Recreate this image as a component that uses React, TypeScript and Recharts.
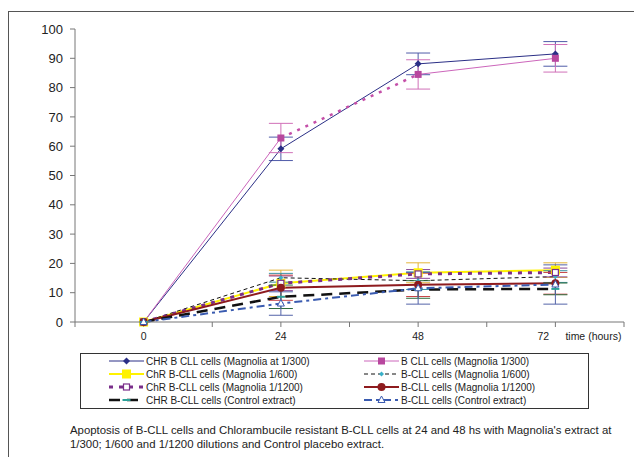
import React from "react";
import { LineChart, Line, XAxis, YAxis, ErrorBar } from "recharts";

const font = "'Liberation Sans', Arial, sans-serif";

const hours = [0, 24, 48, 72];
const xTicks = [-12, 0, 12, 24, 36, 48, 60, 72, 84];
const yTicks = [0, 10, 20, 30, 40, 50, 60, 70, 80, 90, 100];

// % apoptotic cells, with error bar half-widths
const chr300 = [0, 59.1, 88.1, 91.5];
const chr300Err = [0, 4.0, 3.7, 4.2];
const b300 = [0, 62.8, 84.5, 90.0];
const b300Err = [0, 5.0, 5.0, 4.7];
const chr600 = [0, 13.2, 16.8, 17.7];
const chr600Err = [0, 4.5, 3.4, 2.5];
const b600 = [0, 15.1, 14.1, 15.5];
const b600Err = [0, 1.5, 3.0, 2.0];
const chr1200 = [0, 13.2, 16.4, 16.9];
const chr1200Err = [0, 2.5, 1.5, 1.5];
const b1200 = [0, 11.7, 12.7, 13.2];
const b1200Err = [0, 4.3, 4.0, 3.7];
const chrCtrl = [0, 8.6, 11.1, 11.3];
const chrCtrlErr = [0, 4.0, 3.0, 2.0];
const bCtrl = [0, 6.3, 11.5, 12.8];
const bCtrlErr = [0, 4.0, 5.4, 6.7];

const rows = hours.map((h, i) => ({
  hour: h,
  chr300: chr300[i],
  chr300Err: chr300Err[i],
  b300: b300[i],
  b300Err: b300Err[i],
  // the 1/300 B CLL line is dotted between 24 and 48 h
  b300a: i <= 1 ? b300[i] : null,
  b300b: i >= 1 && i <= 2 ? b300[i] : null,
  b300c: i >= 2 ? b300[i] : null,
  chr600: chr600[i],
  chr600Err: chr600Err[i],
  b600: b600[i],
  b600Err: b600Err[i],
  chr1200: chr1200[i],
  chr1200Err: chr1200Err[i],
  b1200: b1200[i],
  b1200Err: b1200Err[i],
  chrCtrl: chrCtrl[i],
  chrCtrlErr: chrCtrlErr[i],
  bCtrl: bCtrl[i],
  bCtrlErr: bCtrlErr[i],
}));

type Shape = "diamond" | "square" | "bigSquare" | "smallDiamond" | "openSquare" | "circle" | "dash" | "openTriangle";

interface SeriesDef {
  key: string;
  name: string;
  color: string;
  width: number;
  dash?: string;
  shape: Shape;
  markerColor: string;
  errColor: string;
}

const series: SeriesDef[] = [
  { key: "chr300", name: "CHR B CLL cells (Magnolia at 1/300)", color: "#2b2f86", width: 1, shape: "diamond", markerColor: "#2b2f86", errColor: "#4f5ba8" },
  { key: "b300", name: "B CLL cells (Magnolia 1/300)", color: "#cc66bb", width: 1, shape: "square", markerColor: "#b8479e", errColor: "#d070b8" },
  { key: "chr600", name: "ChR B-CLL cells (Magnolia 1/600)", color: "#fff200", width: 2, shape: "bigSquare", markerColor: "#fff200", errColor: "#e3b53a" },
  { key: "b600", name: "B-CLL cells (Magnolia 1/600)", color: "#111111", width: 1, dash: "4 3", shape: "smallDiamond", markerColor: "#3ab0c8", errColor: "#3a8fa0" },
  { key: "chr1200", name: "ChR B-CLL cells (Magnolia 1/1200)", color: "#7a2e8a", width: 3, dash: "4 6", shape: "openSquare", markerColor: "#7a2e8a", errColor: "#8a4a9a" },
  { key: "b1200", name: "B-CLL cells (Magnolia 1/1200)", color: "#8e1b1e", width: 2, shape: "circle", markerColor: "#8e1b1e", errColor: "#c8464a" },
  { key: "chrCtrl", name: "CHR B-CLL cells (Control extract)", color: "#111111", width: 2.5, dash: "11 7", shape: "dash", markerColor: "#2aa198", errColor: "#2e6b3b" },
  { key: "bCtrl", name: "B-CLL cells (Control extract)", color: "#3a5bb0", width: 2, dash: "8 4 3 4", shape: "openTriangle", markerColor: "#3a5bb0", errColor: "#5363a8" },
];

function Marker({ shape, x, y, color }: { shape: Shape; x: number; y: number; color: string }) {
  switch (shape) {
    case "diamond":
      return <polygon points={`${x},${y - 3.5} ${x + 3.5},${y} ${x},${y + 3.5} ${x - 3.5},${y}`} fill={color} />;
    case "square":
      return <rect x={x - 3.5} y={y - 3.5} width={7} height={7} fill={color} />;
    case "bigSquare":
      return <rect x={x - 4.5} y={y - 4.5} width={9} height={9} fill={color} />;
    case "smallDiamond":
      return <polygon points={`${x},${y - 2.5} ${x + 2.5},${y} ${x},${y + 2.5} ${x - 2.5},${y}`} fill={color} />;
    case "openSquare":
      return <rect x={x - 3} y={y - 3} width={6} height={6} fill="#fff" stroke={color} strokeWidth={1.2} />;
    case "circle":
      return <circle cx={x} cy={y} r={4} fill={color} />;
    case "dash":
      return <line x1={x - 4} y1={y} x2={x + 4} y2={y} stroke={color} strokeWidth={2} />;
    case "openTriangle":
      return <polygon points={`${x},${y - 4} ${x + 3.5},${y + 2.5} ${x - 3.5},${y + 2.5}`} fill="#fff" stroke={color} strokeWidth={1} />;
  }
  return null;
}

function dotFor(s: SeriesDef) {
  return (p: any) => {
    if (p.cx == null || p.cy == null || p.value == null) return <g key={`${s.key}-${p.index}`} />;
    return (
      <g key={`${s.key}-${p.index}`}>
        <Marker shape={s.shape} x={p.cx} y={p.cy} color={s.markerColor} />
      </g>
    );
  };
}

function HourTick(props: any) {
  const { x, y, payload } = props;
  const v = payload.value;
  if (!hours.includes(v)) return <g />;
  const last = v === hours[hours.length - 1];
  return (
    <g>
      <text x={last ? x - 12 : x} y={y} dy="0.71em" textAnchor="middle" fontSize={10.5} fill="#222" fontFamily={font}>
        {v}
      </text>
      {last && (
        <text x={x + 10} y={y} dy="0.71em" textAnchor="start" fontSize={10.5} fill="#222" fontFamily={font}>
          time (hours)
        </text>
      )}
    </g>
  );
}

function LegendSample({ s }: { s: SeriesDef }) {
  return (
    <svg width={35} height={12} style={{ display: "block", marginRight: 2, flex: "none" }}>
      <line x1={0} y1={6} x2={35} y2={6} stroke={s.color} strokeWidth={s.width} strokeDasharray={s.dash} />
      <Marker shape={s.shape} x={17.5} y={6} color={s.markerColor} />
    </svg>
  );
}

export default function App() {
  const pink = series[1];
  return (
    <div style={{ position: "relative", width: 634, height: 449, overflow: "hidden", fontFamily: font }}>
      <div
        style={{
          position: "absolute",
          left: 0,
          top: 3,
          width: 680,
          height: 480,
          border: "1px solid #555",
          boxSizing: "border-box",
        }}
      />
      <div style={{ position: "absolute", left: 0, top: 0 }}>
        <LineChart width={634} height={340} data={rows} margin={{ top: 21, right: 18, bottom: 0, left: 27 }}>
          <XAxis
            dataKey="hour"
            type="number"
            domain={[-12, 84]}
            ticks={xTicks}
            interval={0}
            height={26}
            tickSize={5}
            tickMargin={6}
            stroke="#777"
            tick={<HourTick />}
          />
          <YAxis
            type="number"
            domain={[0, 100]}
            ticks={yTicks}
            interval={0}
            width={40}
            tickSize={5}
            tickMargin={7}
            stroke="#777"
            tick={{ fontSize: 13, fill: "#222", fontFamily: font }}
          />
          {series.map((s) => {
            if (s.key === "b300") {
              return [
                <Line key="b300a" dataKey="b300a" stroke={pink.color} strokeWidth={1} dot={false} activeDot={false} connectNulls={false} isAnimationActive={false} />,
                <Line key="b300b" dataKey="b300b" stroke="#c44fa8" strokeWidth={2.5} strokeDasharray="3 6" dot={false} activeDot={false} connectNulls={false} isAnimationActive={false} />,
                <Line key="b300c" dataKey="b300c" stroke={pink.color} strokeWidth={1} dot={false} activeDot={false} connectNulls={false} isAnimationActive={false} />,
                <Line key="b300" dataKey="b300" stroke="none" dot={dotFor(s)} activeDot={false} isAnimationActive={false}>
                  <ErrorBar dataKey="b300Err" width={12} stroke={s.errColor} strokeWidth={1} direction="y" isAnimationActive={false} />
                </Line>,
              ];
            }
            return (
              <Line
                key={s.key}
                dataKey={s.key}
                stroke={s.color}
                strokeWidth={s.width}
                strokeDasharray={s.dash}
                dot={dotFor(s)}
                activeDot={false}
                isAnimationActive={false}
              >
                <ErrorBar dataKey={`${s.key}Err`} width={12} stroke={s.errColor} strokeWidth={1} direction="y" isAnimationActive={false} />
              </Line>
            );
          })}
        </LineChart>
      </div>
      <div
        style={{
          position: "absolute",
          left: 72,
          top: 345,
          width: 509,
          height: 56,
          border: "1px solid #333",
          boxSizing: "border-box",
          paddingTop: 0.5,
          display: "grid",
          gridTemplateColumns: "255px 252px",
          gridAutoRows: "13px",
          background: "#fff",
        }}
      >
        {series.map((s) => (
          <div key={s.key} style={{ display: "flex", alignItems: "center", paddingLeft: 28, fontSize: 10, color: "#222", whiteSpace: "nowrap" }}>
            <LegendSample s={s} />
            <span>{s.name}</span>
          </div>
        ))}
      </div>
      <div style={{ position: "absolute", left: 62, top: 415, fontSize: 11.4, lineHeight: "14px", color: "#222", whiteSpace: "nowrap" }}>
        Apoptosis of B-CLL cells and Chlorambucile resistant B-CLL cells at 24 and 48 hs with Magnolia's extract at
        <br />
        1/300; 1/600 and 1/1200 dilutions and Control placebo extract.
      </div>
    </div>
  );
}
